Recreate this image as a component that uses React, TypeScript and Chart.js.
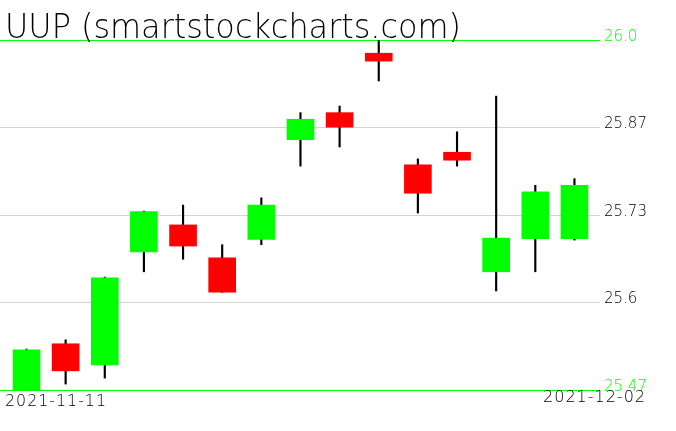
import React, { useEffect, useRef } from "react";
import { Chart, registerables } from "chart.js";

Chart.register(...registerables);

const TITLE = "UUP (smartstockcharts.com)";

const dates = [
  "2021-11-11", "2021-11-12", "2021-11-15", "2021-11-16", "2021-11-17",
  "2021-11-18", "2021-11-19", "2021-11-22", "2021-11-23", "2021-11-24",
  "2021-11-26", "2021-11-29", "2021-11-30", "2021-12-01", "2021-12-02",
];
const openVals = [25.47, 25.54, 25.508, 25.679, 25.72, 25.67, 25.698, 25.849, 25.89, 25.98, 25.811, 25.83, 25.649, 25.699, 25.699];
const closeVals = [25.531, 25.499, 25.64, 25.74, 25.688, 25.618, 25.75, 25.88, 25.868, 25.968, 25.768, 25.818, 25.7, 25.77, 25.78];
const highVals = [25.532, 25.546, 25.641, 25.741, 25.75, 25.69, 25.761, 25.89, 25.9, 26.005, 25.82, 25.861, 25.915, 25.78, 25.79];
const lowVals = [25.465, 25.479, 25.488, 25.649, 25.668, 25.618, 25.69, 25.809, 25.838, 25.938, 25.738, 25.809, 25.62, 25.649, 25.697];

const yTickValues = [25.47, 25.6025, 25.735, 25.8675, 26.0];
const yTickLabels = ["25.47", "25.6", "25.73", "25.87", "26.0"];
const xTickLabels = [dates[0], dates[dates.length - 1]];

const GREEN = "#00ff00";
const RED = "#ff0000";
const GRID = "#d3d3d3";
const FONT = '"DejaVu Sans"';

export default function App() {
  const ref = useRef<HTMLCanvasElement | null>(null);

  useEffect(() => {
    if (!ref.current) return;
    const textPlugin = {
      id: "textPlugin",
      afterDraw(chart: any) {
        const ctx = chart.ctx;
        ctx.save();
        ctx.fillStyle = "#000";
        ctx.textBaseline = "alphabetic";
        ctx.textAlign = "left";
        ctx.font = `200 34px ${FONT}`;
        ctx.fillText(TITLE, 5, 38, 456);
        ctx.font = `200 16px ${FONT}`;
        (ctx as any).letterSpacing = "1px";
        ctx.fillText(xTickLabels[0], 5, 406, 102);
        ctx.textAlign = "right";
        ctx.fillText(xTickLabels[1], 646, 402, 104);
        ctx.restore();
      },
    };

    const chart = new Chart(ref.current, {
      type: "bar",
      data: {
        datasets: [
          {
            label: "body",
            data: dates.map((_, i) => ({ x: i, y: [openVals[i], closeVals[i]] })) as any,
            backgroundColor: dates.map((_, i) => (closeVals[i] >= openVals[i] ? GREEN : RED)),
            borderWidth: 0,
            barThickness: 27,
            grouped: false,
            order: 0,
          },
          {
            label: "wick",
            data: dates.map((_, i) => ({ x: i, y: [lowVals[i], highVals[i]] })) as any,
            backgroundColor: "#000",
            borderWidth: 0,
            barThickness: 1.5,
            grouped: false,
            order: 1,
          },
        ],
      },
      options: {
        animation: false,
        responsive: false,
        layout: { padding: { top: 40, bottom: 41, left: 0, right: 0 } },
        plugins: {
          legend: { display: false },
          tooltip: { enabled: false },
          title: { display: false },
        },
        scales: {
          x: {
            type: "linear",
            display: false,
            offset: false,
            min: -0.677,
            max: 14.653,
            grid: { display: false },
          },
          y: {
            type: "linear",
            position: "right",
            min: 25.47,
            max: 26.0,
            afterBuildTicks: (scale: any) => {
              scale.ticks = yTickValues.map((v) => ({ value: v }));
            },
            afterFit: (scale: any) => {
              scale.width = 76;
            },
            border: { display: false },
            grid: {
              drawTicks: false,
              lineWidth: 1,
              color: (c: any) =>
                c.index === 0 || c.index === yTickValues.length - 1 ? GREEN : GRID,
            },
            ticks: {
              padding: 4,
              labelOffset: -3,
              autoSkip: false,
              font: { family: "DejaVu Sans", size: 15, weight: 200 as any },
              color: (c: any) =>
                c.index === 0 || c.index === yTickValues.length - 1 ? GREEN : "#000",
              callback: (_v: any, i: number) => yTickLabels[i],
            },
          },
        },
      },
      plugins: [textPlugin],
    });
    return () => chart.destroy();
  }, []);

  return (
    <div style={{ position: "fixed", left: 0, top: 0, width: 676, height: 431, background: "#fff" }}>
      <canvas ref={ref} width={676} height={431} />
    </div>
  );
}
